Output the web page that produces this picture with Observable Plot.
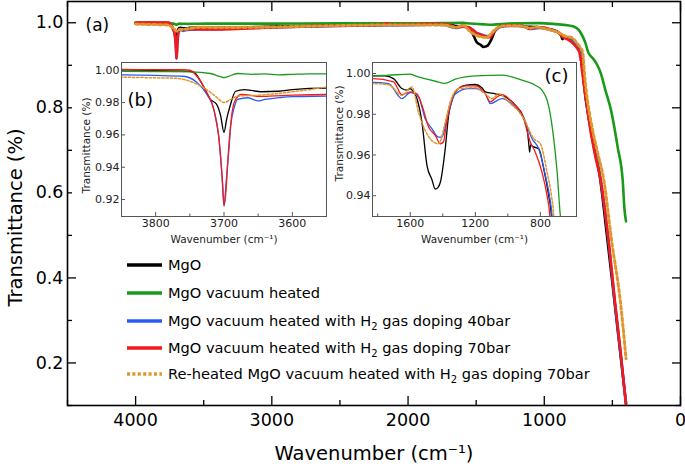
<!DOCTYPE html>
<html><head><meta charset="utf-8">
<script src="https://cdn.jsdelivr.net/npm/d3@7"></script>
<script src="https://cdn.jsdelivr.net/npm/@observablehq/plot@0.6"></script>
<style>
body{margin:0;background:#fff;}
#wrap{position:relative;width:685px;height:470px;font-family:"DejaVu Sans",sans-serif;}
#wrap > *{position:absolute;}
</style></head><body><div id="wrap"></div>
<script>
// ---------- data: [wavenumber (cm-1), transmittance] ----------
const mgo = [[4000,1.0],[3900,0.9998],[3850,0.9995],[3800,0.9997],[3760,0.9995],[3745,0.999],[3730,0.990],[3720,0.982],[3711,0.979],[3705,0.972],[3700,0.9616],[3696,0.970],[3691,0.978],[3683,0.987],[3670,0.988],[3660,0.9875],[3646,0.9867],[3620,0.987],[3600,0.988],[3550,0.9889],[3400,0.988],[3200,0.989],[3000,0.991],[2700,0.993],[2400,0.995],[2200,0.996],[2000,0.997],[1900,0.998],[1830,0.9988],[1754,0.9988],[1703,0.9975],[1651,0.9926],[1620,0.9918],[1600,0.9926],[1580,0.991],[1559,0.9877],[1528,0.976],[1497,0.9548],[1467,0.948],[1446,0.9433],[1430,0.944],[1415,0.9466],[1385,0.963],[1364,0.9795],[1340,0.988],[1323,0.991],[1262,0.9942],[1200,0.9946],[1160,0.993],[1138,0.991],[1077,0.990],[1015,0.9885],[954,0.9844],[903,0.9786],[880,0.972],[872,0.966],[866,0.9614],[860,0.965],[855,0.9647],[841,0.964],[810,0.963],[779,0.953],[749,0.940],[732,0.930],[725,0.92],[710,0.86],[670,0.77],[635,0.71],[595,0.645],[540,0.50],[483,0.34],[440,0.218],[400,0.105]];
const mgoVac = [[4000,0.9995],[3900,0.9993],[3850,0.9993],[3800,0.9992],[3750,0.999],[3720,0.998],[3705,0.996],[3700,0.9955],[3695,0.996],[3680,0.998],[3660,0.9975],[3640,0.9978],[3620,0.9972],[3600,0.9975],[3575,0.9978],[3550,0.9978],[3400,0.998],[3000,0.998],[2500,0.999],[2000,0.999],[1830,0.9988],[1733,0.9992],[1600,0.9997],[1569,0.9988],[1446,0.9962],[1385,0.9952],[1323,0.9972],[1200,0.9988],[1036,0.9992],[913,0.9967],[831,0.9942],[790,0.9918],[749,0.984],[718,0.968],[697,0.9515],[677,0.930],[660,0.922],[640,0.915],[610,0.90],[585,0.881],[550,0.84],[510,0.794],[461,0.707],[424,0.628],[412,0.564],[400,0.533]];
const mgoH40 = [[4000,0.998],[3900,0.9975],[3850,0.9972],[3800,0.9968],[3760,0.9963],[3740,0.9926],[3725,0.985],[3715,0.976],[3708,0.960],[3703,0.935],[3700,0.916],[3697,0.930],[3693,0.950],[3690,0.966],[3685,0.977],[3680,0.982],[3665,0.983],[3650,0.981],[3640,0.982],[3620,0.983],[3600,0.9837],[3550,0.984],[3400,0.985],[3000,0.989],[2700,0.991],[2400,0.993],[2000,0.994],[1830,0.9956],[1733,0.995],[1651,0.9877],[1600,0.9906],[1549,0.9885],[1508,0.9778],[1467,0.9729],[1426,0.9688],[1405,0.9688],[1374,0.9778],[1323,0.990],[1241,0.9926],[1200,0.9926],[1138,0.990],[1108,0.9852],[1036,0.9877],[974,0.985],[903,0.978],[851,0.968],[810,0.963],[769,0.9499],[738,0.9367],[728,0.930],[715,0.89],[705,0.855],[665,0.76],[628,0.695],[587,0.632],[532,0.497],[480,0.338],[438,0.217],[400,0.105]];
const mgoH70 = [[4000,1.0],[3900,1.0005],[3850,1.0005],[3800,1.0003],[3760,1.0003],[3750,1.0],[3735,0.9936],[3725,0.986],[3720,0.982],[3715,0.976],[3712,0.9697],[3708,0.960],[3705,0.947],[3702,0.930],[3700,0.9163],[3697,0.926],[3695,0.940],[3690,0.9675],[3685,0.980],[3675,0.985],[3660,0.9845],[3650,0.9838],[3625,0.9842],[3600,0.9846],[3550,0.985],[3400,0.984],[3300,0.985],[3000,0.989],[2700,0.992],[2400,0.994],[2200,0.995],[2150,0.999],[2120,0.995],[2000,0.996],[1830,0.9975],[1703,0.9959],[1651,0.9896],[1600,0.991],[1559,0.990],[1528,0.9844],[1487,0.9737],[1446,0.9696],[1415,0.9655],[1395,0.9665],[1385,0.9712],[1364,0.981],[1323,0.991],[1262,0.9939],[1200,0.9939],[1138,0.990],[1108,0.986],[1075,0.988],[1036,0.9896],[974,0.986],[903,0.9778],[862,0.9663],[831,0.9614],[790,0.9515],[759,0.940],[742,0.930],[720,0.88],[707,0.85],[665,0.755],[628,0.69],[585,0.628],[530,0.493],[478,0.335],[436,0.215],[400,0.10]];
const mgoReheated = [[4000,0.997],[3900,0.996],[3850,0.9957],[3800,0.9953],[3770,0.995],[3740,0.9915],[3720,0.9864],[3710,0.983],[3700,0.980],[3690,0.982],[3680,0.984],[3650,0.9845],[3625,0.9855],[3600,0.9867],[3575,0.988],[3550,0.9895],[3400,0.989],[3000,0.990],[2700,0.992],[2400,0.994],[2000,0.995],[1830,0.995],[1733,0.9945],[1651,0.9893],[1590,0.9934],[1549,0.981],[1508,0.972],[1467,0.967],[1426,0.9655],[1385,0.976],[1354,0.986],[1300,0.9926],[1200,0.993],[1138,0.990],[1097,0.9877],[1056,0.990],[995,0.986],[903,0.978],[841,0.968],[800,0.9655],[759,0.9515],[732,0.940],[718,0.930],[705,0.88],[692,0.84],[650,0.755],[605,0.69],[562,0.628],[508,0.493],[438,0.335],[400,0.21]];

const seriesNames = ["MgO","MgO vacuum heated","MgO vacuum heated with H_2 gas doping 40bar","MgO vacuum heated with H_2 gas doping 70bar","Re-heated MgO vacuum heated with H_2 gas doping 70bar"];
const seriesColors = ["#000000","#1a9a1a","#2a5cf5","#f51a1a","#e0962e"];
const seriesData = [mgo, mgoVac, mgoH40, mgoH70, mgoReheated];
const seriesDashed = [false,false,false,false,true];

const xMajor = [4000,3000,2000,1000,0];
const xMinor = [4500,3500,2500,1500,500];
const yMajor = [0.2,0.4,0.6,0.8,1.0];
const yMinor = [0.1,0.3,0.5,0.7,0.9];

const bTicksX = [3800,3700,3600], bMinorX = [3850,3750,3650,3550], bTicksY = [0.92,0.94,0.96,0.98,1.00];
const cTicksX = [1600,1200,800], cMinorX = [1800,1400,1000], cTicksY = [0.94,0.96,0.98,1.00];

const xTitle = "Wavenumber (cm\u207B\u00B9)";
const yTitle = "Transmittance (%)";
const FONT = "DejaVu Sans";

function lines(w, dash) {
  return seriesData.map((d, i) => Plot.line(d, {
    x: p => p[0], y: p => p[1], stroke: seriesColors[i],
    strokeWidth: seriesDashed[i] ? w * 1.15 : w,
    strokeDasharray: seriesDashed[i] ? dash : null,
    curve: "monotone-x", clip: true
  }));
}

const wrap = document.getElementById("wrap");

// ---------- main chart ----------
const main = Plot.plot({
  width: 685, height: 470,
  marginLeft: 67, marginRight: 5, marginTop: 1, marginBottom: 65,
  style: {fontFamily: FONT, background: "white", color: "black"},
  x: {domain: [4500, 0]},
  y: {domain: [0.1, 1.05]},
  marks: [
    ...lines(2.6, "3,2.8"),
    Plot.frame({stroke: "black", strokeWidth: 1.6}),
    Plot.axisX(xMajor, {tickSize: -9, tickPadding: 17, fontSize: 17.5, strokeWidth: 1.3, tickFormat: d3.format("d"), label: null}),
    Plot.axisX(xMinor, {tickSize: -5, strokeWidth: 1.3, tickFormat: () => "", label: null}),
    Plot.axisX(xMajor, {anchor: "top", tickSize: -9, strokeWidth: 1.3, tickFormat: () => "", label: null}),
    Plot.axisX(xMinor, {anchor: "top", tickSize: -5, strokeWidth: 1.3, tickFormat: () => "", label: null}),
    Plot.axisY(yMajor, {tickSize: -9, tickPadding: 13, fontSize: 17.5, strokeWidth: 1.3, tickFormat: d3.format(".1f"), label: null}),
    Plot.axisY(yMinor, {tickSize: -5, strokeWidth: 1.3, tickFormat: () => "", label: null}),
    Plot.axisY(yMajor, {anchor: "right", tickSize: -9, strokeWidth: 1.3, tickFormat: () => "", label: null}),
    Plot.axisY(yMinor, {anchor: "right", tickSize: -5, strokeWidth: 1.3, tickFormat: () => "", label: null}),
    Plot.text([xTitle], {frameAnchor: "bottom", dy: 54, fontSize: 19.5, textAnchor: "middle"}),
    Plot.text([yTitle], {frameAnchor: "left", rotate: -90, dx: -52, dy: 14, fontSize: 19.5, textAnchor: "middle"}),
    Plot.text(["(a)"], {frameAnchor: "top-left", dx: 18, dy: 17, fontSize: 17, textAnchor: "start"})
  ]
});
main.style.left = "0px"; main.style.top = "0px";
wrap.appendChild(main);

// ---------- insets ----------
function inset(cfg) {
  const p = Plot.plot({
    width: cfg.width, height: 195,
    marginLeft: cfg.ml, marginRight: cfg.mr, marginTop: 1, marginBottom: 40,
    style: {fontFamily: FONT, background: "white", color: "#222"},
    x: {domain: cfg.xDomain},
    y: {domain: cfg.yDomain},
    marks: [
      ...lines(1.3, "2.4,1.8"),
      Plot.frame({stroke: "#555", strokeWidth: 1}),
      Plot.axisX(cfg.xTicks, {tickSize: -4, tickPadding: 7, fontSize: 11, stroke: "#555", tickFormat: d3.format("d"), label: null}),
      Plot.axisX(cfg.xMinor, {tickSize: -2.5, stroke: "#555", tickFormat: () => "", label: null}),
      Plot.axisY(cfg.yTicks, {tickSize: -4, tickPadding: 6, fontSize: 11, stroke: "#555", tickFormat: d3.format(".2f"), label: null}),
      Plot.text([xTitle], {frameAnchor: "bottom", dy: 26, fontSize: 10.5, textAnchor: "middle"}),
      Plot.text([yTitle], {frameAnchor: "left", rotate: -90, dx: cfg.ylabDx, dy: cfg.ylabDy, fontSize: 10.5, textAnchor: "middle"}),
      Plot.text([cfg.tag], {frameAnchor: cfg.tagAnchor, dx: cfg.tagDx, dy: cfg.tagDy, fontSize: 18, fill: "black"})
    ]
  });
  p.style.left = cfg.left + "px"; p.style.top = "61px";
  wrap.appendChild(p);
}
inset({width: 260, left: 72, ml: 49, mr: 6, xDomain: [3850, 3550], yDomain: [0.9095, 1.0048],
  xTicks: bTicksX, xMinor: bMinorX, yTicks: bTicksY, ylabDx: -35, ylabDy: 6,
  tag: "(b)", tagAnchor: "top-left", tagDx: 6, tagDy: 31});
inset({width: 250, left: 330, ml: 42, mr: 4, xDomain: [1832, 578], yDomain: [0.9298, 1.0054],
  xTicks: cTicksX, xMinor: cMinorX, yTicks: cTicksY, ylabDx: -33, ylabDy: -6,
  tag: "(c)", tagAnchor: "top-right", tagDx: -8, tagDy: 7});

// ---------- legend ----------
const leg = d3.select(wrap).append("svg")
  .attr("width", 560).attr("height", 135)
  .style("left", "120px").style("top", "252px")
  .style("font-family", FONT);
const rowY = [13, 41, 69, 96, 122];
seriesNames.forEach((name, i) => {
  const y = rowY[i];
  leg.append("line").attr("x1", 7).attr("x2", 42).attr("y1", y).attr("y2", y)
    .attr("stroke", seriesColors[i]).attr("stroke-width", 3.4)
    .attr("stroke-dasharray", seriesDashed[i] ? "3,2.4" : null);
  const t = leg.append("text").attr("x", 48).attr("y", y).attr("dy", "0.35em")
    .attr("font-size", 14.6).attr("fill", "black");
  name.split("_2").forEach((part, j) => {
    if (j > 0) t.append("tspan").attr("font-size", 10).attr("dy", 4).text("2");
    t.append("tspan").attr("dy", j > 0 ? -4 : null).text(part);
  });
});
</script></body></html>
